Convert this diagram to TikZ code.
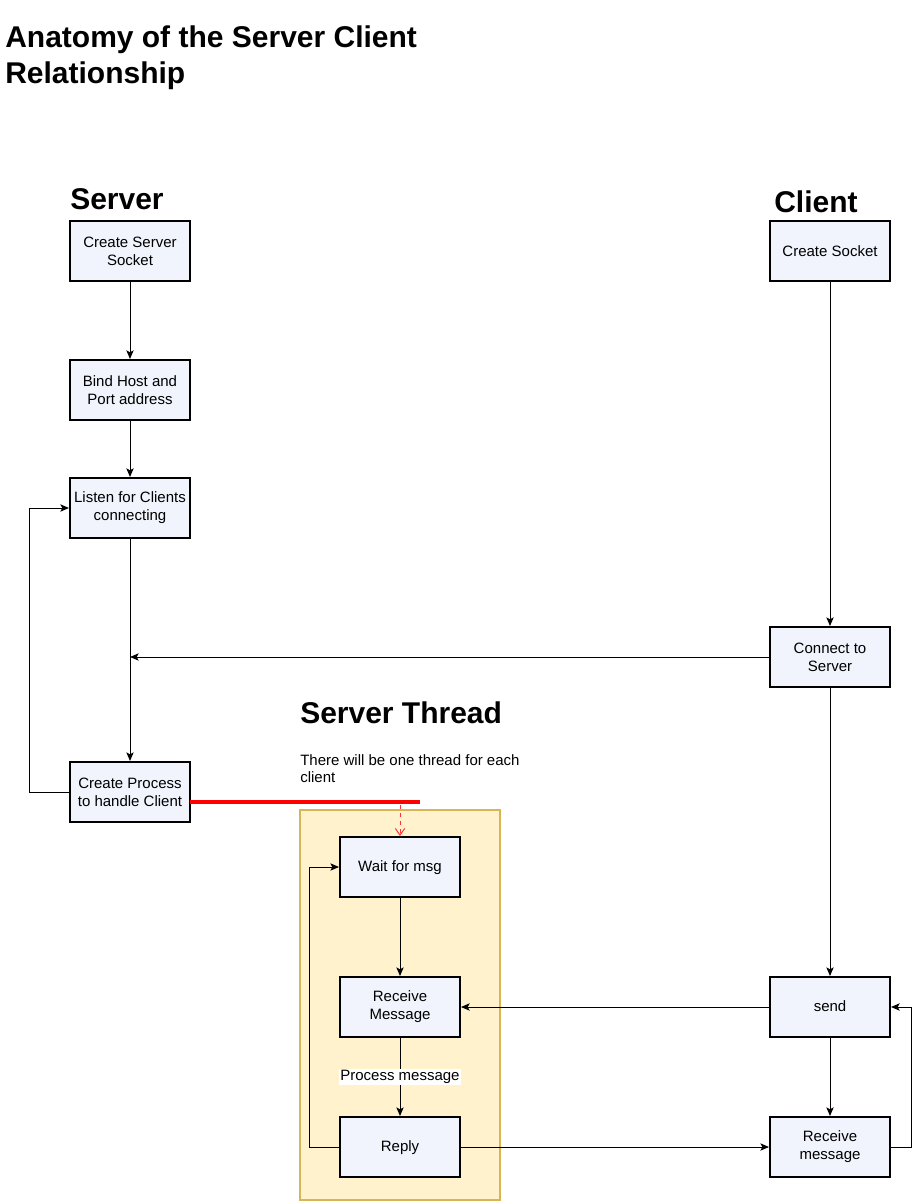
\documentclass[tikz,border=0pt]{standalone}
\usepackage{fontspec}
\setmainfont{Liberation Sans}
\usetikzlibrary{arrows.meta,calc}
\definecolor{boxfill}{HTML}{F1F4FC}
\definecolor{thrfill}{HTML}{FFF2CC}
\definecolor{thrdraw}{HTML}{D6B656}
\begin{document}
\begin{tikzpicture}[x=0.75pt,y=-0.75pt,
  stepbox/.style={draw=black, fill=boxfill, line width=1.5pt, minimum width=90pt, minimum height=45pt,
    align=center, inner sep=0pt, font=\fontsize{11.25}{13.5}\selectfont},
  conn/.style={draw=black, line width=0.75pt, -{Stealth[length=6.5pt,width=5.5pt,inset=1.5pt]}},
  heading/.style={font=\fontsize{22.5}{27}\selectfont\bfseries, inner sep=0pt},
  note/.style={font=\fontsize{11.25}{12.75}\selectfont, inner sep=0pt, align=left}
]
\useasboundingbox (0,0) rectangle (919,1201);
% thread container
\node[draw=thrdraw, fill=thrfill, line width=1.5pt, minimum width=150pt, minimum height=292.5pt, inner sep=0pt] (thread) at (400,1005) {};
% titles
\node[heading, anchor=north west, align=left] (title) at (5,26) {Anatomy of the Server Client\\Relationship};
\node[heading, anchor=base west] (hserver) at (70,210) {Server};
\node[heading, anchor=base west] (hclient) at (774,213) {Client};
\node[heading, anchor=base west] (hthread) at (300,723) {Server Thread};
\node[note, anchor=north west] (tnote) at (300,754) {There will be one thread for each\\client};
% server boxes
\node[stepbox] (css) at (130,251.5) {Create Server\\Socket};
\node[stepbox] (bind) at (130,390) {Bind Host and\\Port address};
\node[stepbox] (listen) at (130,508) {Listen for Clients\\connecting};
\node[stepbox] (cp) at (130,792) {Create Process\\to handle Client};
% client boxes
\node[stepbox] (csock) at (830,251.5) {Create Socket};
\node[stepbox] (cts) at (830,657) {Connect to\\Server};
\node[stepbox, text depth=0.2em] (send) at (830,1007) {send};
\node[stepbox] (rcvc) at (830,1147) {Receive\\message};
% thread boxes
\node[stepbox, text depth=0.2em] (wait) at (400,867) {Wait for msg};
\node[stepbox] (rcvs) at (400,1007) {Receive\\Message};
\node[stepbox, text depth=0.2em] (reply) at (400,1147) {Reply};
% connectors
\draw[conn] (css) -- (bind);
\draw[conn] (bind) -- (listen);
\draw[conn] (listen) -- (cp);
\coordinate (join) at (cts.west -| listen.south);
\draw[conn] (cts.west) -- (join);
\draw[conn] (cp.west) -- ++(-40,0) |- (listen.west);
\draw[conn] (csock) -- (cts);
\draw[conn] (cts) -- (send);
\draw[conn] (send) -- (rcvc);
\draw[conn] (rcvc.east) -- ++(20,0) |- (send.east);
\draw[conn] (send) -- (rcvs);
\draw[conn] (reply) -- (rcvc);
\draw[conn] (wait) -- (rcvs);
\draw[conn] (rcvs) -- node[fill=white, inner sep=1pt, font=\fontsize{11.25}{13.5}\selectfont] {Process message} (reply);
\draw[conn] (reply.west) -- ++(-30,0) |- (wait.west);
% red spawn line
\coordinate (rstart) at (190,802);
\coordinate (rend) at (420,802);
\coordinate (rdrop) at (400,805);
\draw[red, line width=3pt] (rstart) -- (rend);
\draw[red!80, line width=0.75pt, dashed, -{Straight Barb[length=5pt,width=7pt]}] (rdrop) -- (wait.north);
\end{tikzpicture}
\end{document}
